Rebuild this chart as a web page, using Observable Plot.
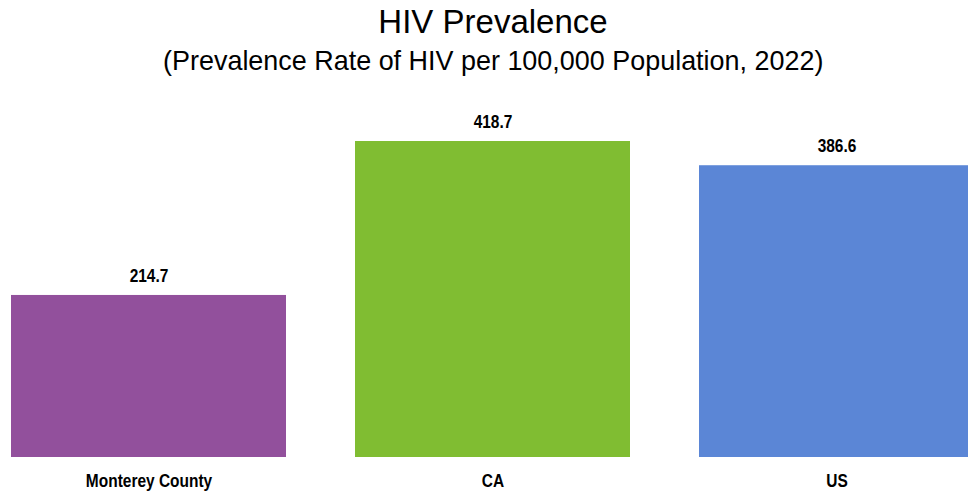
<!DOCTYPE html>
<html>
<head>
<meta charset="utf-8">
<script src="https://cdn.jsdelivr.net/npm/d3@7"></script>
<script src="https://cdn.jsdelivr.net/npm/@observablehq/plot@0.6"></script>
<style>
  html, body { margin: 0; padding: 0; background: #fff; overflow: hidden; }
  body { width: 968px; height: 492px; font-family: "Liberation Sans", Arial, sans-serif; }
  #head { height: 90px; padding-left: 18px; box-sizing: border-box; }
  #title { text-align: center; font-size: 33px; line-height: 38px; color: #000; padding-top: 3px; }
  #subtitle { text-align: center; font-size: 28px; line-height: 34px; color: #000; margin-top: 3px; }
  #subtitle span { display: inline-block; transform: scaleX(0.962); }
</style>
</head>
<body>
<div id="head">
  <div id="title">HIV Prevalence</div>
  <div id="subtitle"><span>(Prevalence Rate of HIV per 100,000 Population, 2022)</span></div>
</div>
<div id="chart"></div>
<script>
const categories = ["Monterey County", "CA", "US"];
const values = [214.7, 418.7, 386.6];
const colors = ["#92509c", "#80bd32", "#5b86d6"];

const data = categories.map((c, i) => ({category: c, value: values[i], color: colors[i]}));

const plot = Plot.plot({
  width: 968,
  height: 402,
  marginTop: 51,
  marginBottom: 35,
  marginLeft: 10,
  marginRight: -7,
  style: {fontFamily: "'Liberation Sans', Arial, sans-serif", overflow: "visible"},
  x: {domain: categories, paddingInner: 0.2, paddingOuter: 0, label: null},
  y: {domain: [0, 418.7], axis: null},
  marks: [
    Plot.barY(data, {x: "category", y: "value", fill: "color"}),
    Plot.text(data, {x: "category", y: "value", text: d => d.value.toFixed(1), dy: -19, fontSize: 18, fontWeight: "bold", fill: "#000"}),
    Plot.axisX({tickSize: 0, tickPadding: 17, fontSize: 18, fontWeight: "bold", fill: "#000", label: null})
  ]
});
// condense text horizontally to mimic a narrow typeface
plot.querySelectorAll("text").forEach(t => {
  const tr = t.getAttribute("transform");
  if (tr) t.setAttribute("transform", tr + " scale(0.86,1)");
});
document.getElementById("chart").appendChild(plot);
</script>
</body>
</html>
